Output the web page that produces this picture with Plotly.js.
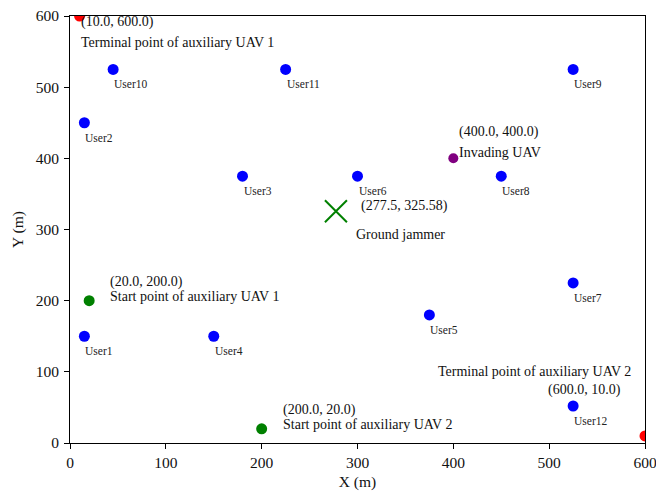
<!DOCTYPE html>
<html>
<head>
<meta charset="utf-8">
<script src="https://cdn.plot.ly/plotly-3.0.1.min.js"></script>
<style>html,body{margin:0;padding:0;background:#fff}#plot{width:656px;height:491px}</style>
</head>
<body>
<div id="plot"></div>
<script>
// Ground users
const userNames = ['User1','User2','User3','User4','User5','User6','User7','User8','User9','User10','User11','User12'];
const userX = [15, 15, 180, 150, 375, 300, 525, 450, 525, 45, 225, 525];
const userY = [150, 450, 375, 150, 180, 375, 225, 375, 525, 525, 525, 52];

// Auxiliary UAV start and terminal points
const startX = [20, 200];
const startY = [200, 20];
const terminalX = [10, 600];
const terminalY = [600, 10];

// Invading UAV and ground jammer
const invaderX = [400];
const invaderY = [400];
const jammerX = [277.5];
const jammerY = [325.58];

const FONT = 'Liberation Serif, Times New Roman, serif';

const traces = [
  {x: userX, y: userY, mode: 'markers', type: 'scatter',
   marker: {color: '#0000ff', size: 11}},
  {x: startX, y: startY, mode: 'markers', type: 'scatter',
   marker: {color: '#008000', size: 11}},
  {x: terminalX, y: terminalY, mode: 'markers', type: 'scatter',
   marker: {color: '#ff0000', size: 11}},
  {x: invaderX, y: invaderY, mode: 'markers', type: 'scatter',
   marker: {color: '#800080', size: 10}},
  {x: jammerX, y: jammerY, mode: 'markers', type: 'scatter',
   marker: {color: '#008000', size: 22, symbol: 'x-thin-open', line: {color: '#008000', width: 2}}}
];

const fmt = (v, d) => v.toFixed(d);

const annotations = [];
// User labels sit just below each user marker
userNames.forEach((name, i) => {
  annotations.push({x: userX[i], y: userY[i], xref: 'x', yref: 'y', text: name,
    showarrow: false, xanchor: 'left', yanchor: 'middle', xshift: -1, yshift: -15,
    font: {family: FONT, size: 11.5, color: '#222'}});
});

const big = {family: FONT, size: 14, color: '#111'};
function note(x, y, text, xa, xs, ys) {
  annotations.push({x: x, y: y, xref: 'x', yref: 'y', text: text, showarrow: false,
    xanchor: xa, yanchor: 'middle', xshift: xs, yshift: ys, font: big});
}

// Terminal point of UAV 1
note(terminalX[0], terminalY[0], '(' + fmt(terminalX[0],1) + ', ' + fmt(terminalY[0],1) + ')', 'left', -1, -6);
note(terminalX[0], terminalY[0], 'Terminal point of auxiliary UAV 1', 'left', -1, -26);
// Terminal point of UAV 2
note(terminalX[1], terminalY[1], 'Terminal point of auxiliary UAV 2', 'right', -12, 64);
note(terminalX[1], terminalY[1], '(' + fmt(terminalX[1],1) + ', ' + fmt(terminalY[1],1) + ')', 'right', -22, 46);
// Start points
note(startX[0], startY[0], '(' + fmt(startX[0],1) + ', ' + fmt(startY[0],1) + ')', 'left', 19, 19);
note(startX[0], startY[0], 'Start point of auxiliary UAV 1', 'left', 19, 4);
note(startX[1], startY[1], '(' + fmt(startX[1],1) + ', ' + fmt(startY[1],1) + ')', 'left', 19, 19);
note(startX[1], startY[1], 'Start point of auxiliary UAV 2', 'left', 19, 4);
// Invading UAV
note(invaderX[0], invaderY[0], '(' + fmt(invaderX[0],1) + ', ' + fmt(invaderY[0],1) + ')', 'left', 4, 26);
note(invaderX[0], invaderY[0], 'Invading UAV', 'left', 4, 6);
// Ground jammer
note(jammerX[0], jammerY[0], '(' + jammerX[0] + ', ' + jammerY[0] + ')', 'left', 23, 5);
note(jammerX[0], jammerY[0], 'Ground jammer', 'left', 18, -23);

const axisCommon = {
  range: [0, 600], dtick: 100, tick0: 0,
  showgrid: false, zeroline: false,
  showline: true, linecolor: '#000', linewidth: 1, mirror: true,
  ticks: 'outside', ticklen: 5, tickwidth: 1, tickcolor: '#000',
  ticklabeloverflow: 'allow',
  tickfont: {family: FONT, size: 15.5, color: '#111'}
};

const layout = {
  width: 656, height: 491,
  margin: {l: 70, r: 11, t: 16, b: 48},
  paper_bgcolor: '#fff', plot_bgcolor: '#fff',
  showlegend: false,
  xaxis: Object.assign({}, axisCommon, {
    title: {text: 'X (m)', font: {family: FONT, size: 15.5, color: '#111'}, standoff: 7}
  }),
  yaxis: Object.assign({}, axisCommon, {
    ticklabelstandoff: 2,
    title: {text: 'Y (m)', font: {family: FONT, size: 15.5, color: '#111'}, standoff: 8}
  }),
  annotations: annotations
};

Plotly.newPlot('plot', traces, layout, {displayModeBar: false, staticPlot: true});
</script>
</body>
</html>
